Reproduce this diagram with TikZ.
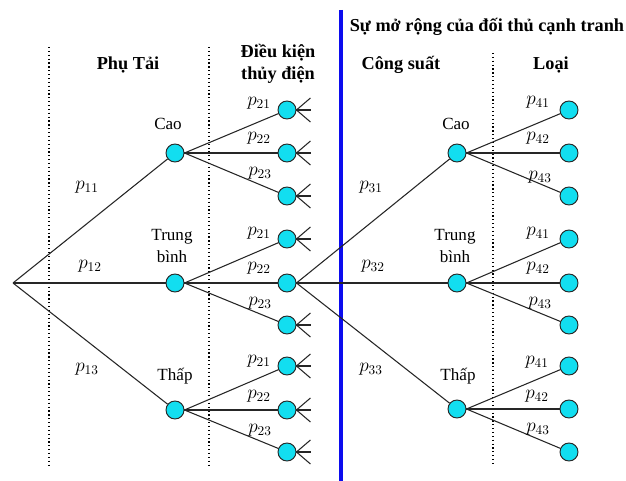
\documentclass[tikz,border=0pt]{standalone}
\usepackage{fontspec}
\setmainfont{Liberation Serif}
\definecolor{nodecyan}{RGB}{18,222,240}
\definecolor{splitblue}{RGB}{12,12,238}
\tikzset{
  chance/.style={shape=circle, draw=black!85, fill=nodecyan, minimum size=13.5pt, inner sep=0pt, line width=0.7pt},
  edge/.style={draw=black!85, line width=0.8pt},
  divider/.style={dotted, line width=0.9pt},
  heading/.style={font=\bfseries\fontsize{13.7}{16.5}\selectfont, align=center, inner sep=0pt},
  outcome/.style={font=\fontsize{12.8}{17}\selectfont, align=center, inner sep=0pt},
  prob/.style={font=\fontsize{14.5}{16}\selectfont, inner sep=0pt}
}
\begin{document}
\begin{tikzpicture}[x=0.75pt, y=-0.75pt]
  \useasboundingbox (0,0) rectangle (626,481);

  % column separators
  \draw[divider] (49,47) -- (49,465);
  \draw[divider] (209,47) -- (209,465);
  \draw[divider] (493,53) -- (493,465);
  \draw[splitblue, line width=2.3pt] (341,10) -- (341,481);

  % headings
  \node[heading] (hload) at (128,65) {Phụ Tải};
  \node[heading] (hhydro) at (278,64) {Điều kiện\\thủy điện};
  \node[heading] (hrival) at (487,27) {Sự mở rộng của đối thủ cạnh tranh};
  \node[heading] (hcap) at (401,65) {Công suất};
  \node[heading] (htype) at (551,65) {Loại};

  % load level
  \coordinate (root) at (13,283);
  \node[chance] (a1) at (175,153) {};
  \node[chance] (a2) at (175,283) {};
  \node[chance] (a3) at (175,410) {};
  \node[outcome] (la1) at (168,124) {Cao};
  \node[outcome] (la2) at (172,246) {Trung\\bình};
  \node[outcome] (la3) at (175,376) {Thấp};

  % hydro level
  \node[chance] (b1) at (287,110) {};
  \node[chance] (b2) at (287,153) {};
  \node[chance] (b3) at (287,196) {};
  \node[chance] (b4) at (287,239) {};
  \node[chance] (b5) at (287,283) {};
  \node[chance] (b6) at (287,325) {};
  \node[chance] (b7) at (287,366) {};
  \node[chance] (b8) at (287,410) {};
  \node[chance] (b9) at (287,452) {};

  % rival capacity level
  \node[chance] (c1) at (457,153) {};
  \node[chance] (c2) at (457,283) {};
  \node[chance] (c3) at (457,409) {};
  \node[outcome] (lc1) at (456,124) {Cao};
  \node[outcome] (lc2) at (455,246) {Trung\\bình};
  \node[outcome] (lc3) at (458,376) {Thấp};

  % type level
  \node[chance] (d1) at (569,110) {};
  \node[chance] (d2) at (569,153) {};
  \node[chance] (d3) at (569,196) {};
  \node[chance] (d4) at (569,239) {};
  \node[chance] (d5) at (569,283) {};
  \node[chance] (d6) at (569,325) {};
  \node[chance] (d7) at (569,366) {};
  \node[chance] (d8) at (569,409) {};
  \node[chance] (d9) at (569,452) {};

  % branches
  \draw[edge] (root) -- (a1);
  \draw[edge] (root) -- (a2);
  \draw[edge] (root) -- (a3);
  \draw[edge] (a1.east) -- (b1);
  \draw[edge] (a1.east) -- (b2);
  \draw[edge] (a1.east) -- (b3);
  \draw[edge] (a2.east) -- (b4);
  \draw[edge] (a2.east) -- (b5);
  \draw[edge] (a2.east) -- (b6);
  \draw[edge] (a3.east) -- (b7);
  \draw[edge] (a3.east) -- (b8);
  \draw[edge] (a3.east) -- (b9);
  \draw[edge] (b5.east) -- (c1);
  \draw[edge] (b5.east) -- (c2);
  \draw[edge] (b5.east) -- (c3);
  \draw[edge] (c1.east) -- (d1);
  \draw[edge] (c1.east) -- (d2);
  \draw[edge] (c1.east) -- (d3);
  \draw[edge] (c2.east) -- (d4);
  \draw[edge] (c2.east) -- (d5);
  \draw[edge] (c2.east) -- (d6);
  \draw[edge] (c3.east) -- (d7);
  \draw[edge] (c3.east) -- (d8);
  \draw[edge] (c3.east) -- (d9);

  % collapsed subtrees
  \foreach \n in {b1,b2,b3,b4,b6,b7,b8,b9} {
    \draw[edge] (\n.east) -- ++(14,-12);
    \draw[edge] (\n.east) -- ++(15,0);
    \draw[edge] (\n.east) -- ++(14,12);
  }

  % probabilities
  \node[prob] (p11) at (87,187) {$p_{11}$};
  \node[prob] (p12) at (90,266) {$p_{12}$};
  \node[prob] (p13) at (87,369) {$p_{13}$};

  \node[prob] (p21a) at (259,103) {$p_{21}$};
  \node[prob] (p22a) at (259,138) {$p_{22}$};
  \node[prob] (p23a) at (260,173) {$p_{23}$};
  \node[prob] (p21b) at (259,233) {$p_{21}$};
  \node[prob] (p22b) at (259,268) {$p_{22}$};
  \node[prob] (p23b) at (260,303) {$p_{23}$};
  \node[prob] (p21c) at (259,361) {$p_{21}$};
  \node[prob] (p22c) at (259,396) {$p_{22}$};
  \node[prob] (p23c) at (260,430) {$p_{23}$};

  \node[prob] (p31) at (371,187) {$p_{31}$};
  \node[prob] (p32) at (373,266) {$p_{32}$};
  \node[prob] (p33) at (371,369) {$p_{33}$};

  \node[prob] (p41a) at (538,102) {$p_{41}$};
  \node[prob] (p42a) at (538,138) {$p_{42}$};
  \node[prob] (p43a) at (540,177) {$p_{43}$};
  \node[prob] (p41b) at (538,233) {$p_{41}$};
  \node[prob] (p42b) at (538,268) {$p_{42}$};
  \node[prob] (p43b) at (540,303) {$p_{43}$};
  \node[prob] (p41c) at (537,362) {$p_{41}$};
  \node[prob] (p42c) at (537,396) {$p_{42}$};
  \node[prob] (p43c) at (538,429) {$p_{43}$};
\end{tikzpicture}
\end{document}
